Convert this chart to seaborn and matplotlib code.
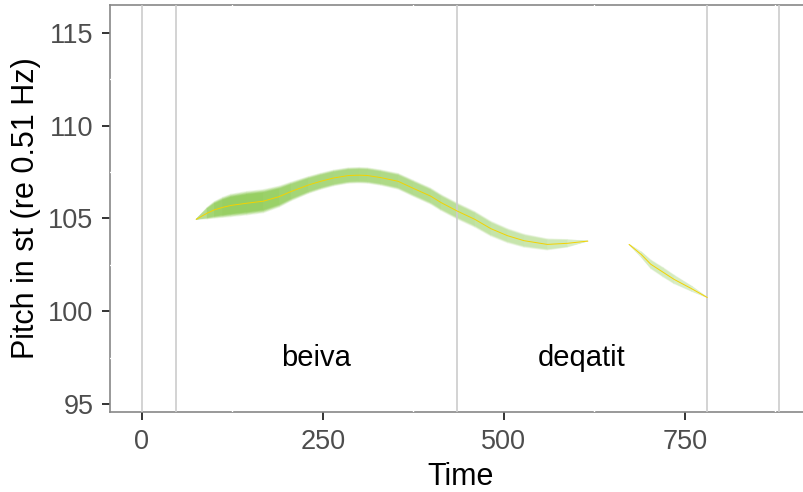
import numpy as np
import pandas as pd
import matplotlib
matplotlib.use("Agg")
import matplotlib.pyplot as plt
from matplotlib.collections import PolyCollection
from matplotlib.colors import to_rgb
import seaborn as sns

# Pitch contour, voiced stretch 1 (time in ms, pitch in semitones re 0.51 Hz)
seg1_time = [75, 90, 100, 112, 123, 145, 168, 190, 206, 230, 247, 265, 285, 300, 312,
             330, 354, 375, 399, 413, 436, 460, 482, 505, 528, 560, 588, 616]
seg1_pitch = [104.95, 105.28, 105.46, 105.60, 105.70, 105.82, 105.93, 106.18, 106.45,
              106.80, 107.00, 107.18, 107.31, 107.33, 107.31, 107.20, 107.00, 106.62,
              106.20, 105.86, 105.39, 104.95, 104.45, 104.07, 103.80, 103.60, 103.66,
              103.78]
seg1_halfwidth = [0.0, 0.32, 0.46, 0.56, 0.62, 0.65, 0.64, 0.58, 0.52, 0.47, 0.45, 0.44,
                  0.43, 0.43, 0.43, 0.43, 0.44, 0.45, 0.45, 0.45, 0.45, 0.44, 0.42, 0.40,
                  0.37, 0.32, 0.22, 0.0]
seg1_strength = [0.55, 0.78, 0.88, 0.92, 0.94, 0.94, 0.93, 0.88, 0.84, 0.80, 0.78, 0.77,
                 0.76, 0.76, 0.74, 0.73, 0.71, 0.69, 0.67, 0.64, 0.61, 0.57, 0.54, 0.51,
                 0.49, 0.47, 0.40, 0.30]

# Pitch contour, voiced stretch 2
seg2_time = [673, 690, 703, 720, 735, 760, 781]
seg2_pitch = [103.60, 103.05, 102.53, 102.10, 101.72, 101.20, 100.74]
seg2_halfwidth = [0.0, 0.16, 0.25, 0.27, 0.25, 0.15, 0.0]
seg2_strength = [0.28, 0.34, 0.40, 0.40, 0.38, 0.33, 0.28]

# Segment boundaries and word labels
boundaries = [0, 47, 435, 781, 880]
words = ["beiva", "deqatit"]
word_spans = [(47, 435), (435, 781)]
label_pitch = 97.5

x_ticks = [0, 250, 500, 750]
y_ticks = [95, 100, 105, 110, 115]

sns.set_theme(style="white")
plt.rcParams["font.family"] = ["Liberation Sans", "DejaVu Sans"]

fig = plt.figure(figsize=(8.04, 4.92), dpi=100)
ax = fig.add_axes([110 / 804, 80 / 492, 700.8 / 804, 407 / 492])
ax.set_xlim(-44, 924)
ax.set_ylim(94.57, 116.5)

# Thin white minor grid
for xm in [125, 375, 625, 875]:
    ax.axvline(xm, color="white", lw=1.0, zorder=2.6)
for ym in [97.5, 102.5, 107.5, 112.5]:
    ax.axhline(ym, color="white", lw=1.0, zorder=2.6)

green = np.array(to_rgb("#74BF2F"))
white = np.ones(3)


def draw_ribbon(t, p, w, s):
    t = np.asarray(t, float)
    p = np.asarray(p, float)
    w = np.asarray(w, float)
    s = np.asarray(s, float)
    layers = [(1.0, 0.15), (0.94, 0.35), (0.88, 0.55), (0.82, 0.75), (0.76, 0.9), (0.70, 1.0)]
    for scale, fac in layers:
        polys, cols = [], []
        for i in range(len(t) - 1):
            polys.append([(t[i], p[i] - scale * w[i]), (t[i + 1], p[i + 1] - scale * w[i + 1]),
                          (t[i + 1], p[i + 1] + scale * w[i + 1]), (t[i], p[i] + scale * w[i])])
            k = 0.5 * (s[i] + s[i + 1]) * fac * 0.8
            cols.append(white + (green - white) * k)
        pc = PolyCollection(polys, facecolors=cols, edgecolors=cols, linewidths=0.3,
                            zorder=2.7)
        ax.add_collection(pc)


draw_ribbon(seg1_time, seg1_pitch, seg1_halfwidth, seg1_strength)
draw_ribbon(seg2_time, seg2_pitch, seg2_halfwidth, seg2_strength)

for b in boundaries:
    ax.axvline(b, color="#cccccc", lw=1.2, zorder=3)

contour = pd.concat([
    pd.DataFrame({"Time": seg1_time, "Pitch": seg1_pitch, "seg": "1"}),
    pd.DataFrame({"Time": seg2_time, "Pitch": seg2_pitch, "seg": "2"}),
])
for _, d in contour.groupby("seg"):
    sns.lineplot(data=d, x="Time", y="Pitch", ax=ax, color="#F4D200", lw=0.7,
                 sort=False, estimator=None, zorder=3.5)

for word, (a, b) in zip(words, word_spans):
    ax.text((a + b) / 2, label_pitch, word, ha="center", va="center",
            fontsize=21, color="black", zorder=4)

ax.set_xticks(x_ticks)
ax.set_yticks(y_ticks)
ax.tick_params(axis="both", which="major", labelsize=19.5, labelcolor="#4d4d4d",
               color="#333333", length=6, width=1.4, direction="out",
               bottom=True, left=True)
ax.tick_params(axis="x", pad=6)
ax.tick_params(axis="y", pad=6)
ax.set_xlabel("Time", fontsize=22, color="black", labelpad=5)
ax.set_ylabel("Pitch in st (re 0.51 Hz)", fontsize=22, color="black", labelpad=5)
for sp in ax.spines.values():
    sp.set_color("#888888")
    sp.set_linewidth(1.2)
    sp.set_zorder(2.5)
ax.grid(False)

fig.savefig("out.png", dpi=100)
